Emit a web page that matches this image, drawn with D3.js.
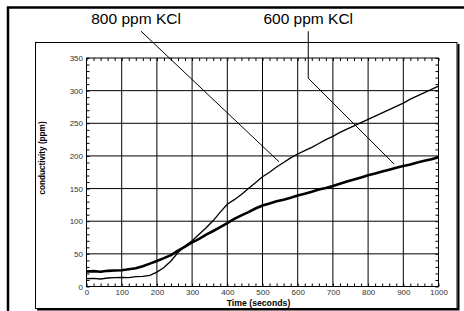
<!DOCTYPE html>
<html>
<head>
<meta charset="utf-8">
<script src="https://cdn.jsdelivr.net/npm/d3@7"></script>
<style>
  html, body { margin: 0; padding: 0; background: #fff; }
  svg { display: block; }
</style>
</head>
<body>
<div id="chart"></div>
<script>
// time axis (seconds), sampled every 20 s
var times = [0, 20, 40, 60, 80, 100, 120, 140, 160, 180, 200, 220, 240, 260, 280, 300, 320, 340, 360, 380,
  400, 420, 440, 460, 480, 500, 520, 540, 560, 580, 600, 620, 640, 660, 680, 700, 720, 740, 760, 780,
  800, 820, 840, 860, 880, 900, 920, 940, 960, 980, 1000];

// conductivity (ppm)
var kcl800 = [12, 12.5, 11.5, 13, 13.5, 14, 13.5, 15, 15.5, 17, 22, 29, 39, 52, 62, 70, 80, 90, 101, 114,
  126, 133, 141, 150, 159, 168, 175, 183, 190, 197, 203, 208, 213, 219, 225, 230, 236, 241, 246, 251,
  256, 261, 266, 271, 276, 281, 287, 292, 297, 302, 307];

var kcl600 = [23, 23.5, 22.5, 24, 24.5, 25, 26.5, 28, 31, 35, 39, 43.5, 48, 55, 61, 67.5, 73, 79.5, 85, 91,
  97, 103.5, 109, 114, 119.5, 124, 127, 130.5, 133, 136, 139.5, 142, 145, 148.5, 151, 154, 157.5, 161, 164, 167,
  170.5, 173, 176, 179, 182, 184.5, 187, 190, 192.5, 195, 198];

var seriesNames = ['800 ppm KCl', '600 ppm KCl'];
var xTicks = [0, 100, 200, 300, 400, 500, 600, 700, 800, 900, 1000];
var yTicks = [0, 50, 100, 150, 200, 250, 300, 350];

// leader lines for the labels, in data units [t, ppm]
var leader800 = [[155, 391], [547, 191]];
var leader600 = [[630, 391], [630, 319], [874, 187.5]];

var width = 464;
var height = 311;

//Create SVG
var svg = d3.select('#chart')
  .append('svg')
  .attr('width', width)
  .attr('height', height);

svg.append('rect')
  .attr('width', width)
  .attr('height', height)
  .attr('fill', '#fff');

//Outer frame (runs off the right and bottom edge)
svg.append('path')
  .attr('d', 'M8,' + height + 'V7.5H' + width)
  .attr('fill', 'none')
  .attr('stroke', '#000')
  .attr('stroke-width', 2.5);

//Inner panel with shadow
svg.append('path')
  .attr('d', 'M458.5,44V309.5H37')
  .attr('fill', 'none')
  .attr('stroke', '#000')
  .attr('stroke-width', 2);
svg.append('rect')
  .attr('x', 35.5)
  .attr('y', 42.5)
  .attr('width', 421.5)
  .attr('height', 266)
  .attr('fill', '#fff')
  .attr('stroke', '#000')
  .attr('stroke-width', 1);

//Scales
var x = d3.scaleLinear().domain([0, 1000]).range([86.5, 438.5]);
var y = d3.scaleLinear().domain([0, 350]).range([286.5, 58]);

var plot = svg.append('g');

//Grid
plot.selectAll('.vgrid')
  .data(xTicks.slice(1, -1))
  .enter()
  .append('line')
  .attr('x1', (d) => x(d))
  .attr('x2', (d) => x(d))
  .attr('y1', y(0))
  .attr('y2', y(350))
  .attr('stroke', '#000')
  .attr('stroke-width', 1);

plot.selectAll('.hgrid')
  .data(yTicks.slice(1, -1))
  .enter()
  .append('line')
  .attr('x1', x(0))
  .attr('x2', x(1000))
  .attr('y1', (d) => y(d))
  .attr('y2', (d) => y(d))
  .attr('stroke', '#000')
  .attr('stroke-width', 1);

//Axes, ticks inward on all four sides
var tickFont = function (g) {
  g.select('.domain').remove();
  g.selectAll('text')
    .style('font-family', 'Liberation Sans, Arial, sans-serif')
    .style('font-size', '8px')
    .attr('fill', '#333');
};

plot.append('g')
  .attr('transform', 'translate(0,' + y(0) + ')')
  .call(d3.axisBottom(x).tickValues(d3.range(0, 1001, 20)).tickSize(-3).tickFormat(''))
  .call((g) => g.select('.domain').remove());
plot.append('g')
  .attr('transform', 'translate(0,' + y(0) + ')')
  .call(d3.axisBottom(x).tickValues(xTicks).tickSize(0).tickPadding(2.5).tickFormat(d3.format('d')))
  .call(tickFont);

plot.append('g')
  .attr('transform', 'translate(0,' + y(350) + ')')
  .call(d3.axisTop(x).tickValues(d3.range(0, 1001, 20)).tickSize(-3).tickFormat(''))
  .call((g) => g.select('.domain').remove());

plot.append('g')
  .attr('transform', 'translate(' + x(0) + ',0)')
  .call(d3.axisLeft(y).tickValues(d3.range(0, 351, 10)).tickSize(-3).tickFormat(''))
  .call((g) => g.select('.domain').remove());
plot.append('g')
  .attr('transform', 'translate(' + x(0) + ',0)')
  .call(d3.axisLeft(y).tickValues(yTicks).tickSize(0).tickPadding(3.5).tickFormat(d3.format('d')))
  .call(tickFont);

plot.append('g')
  .attr('transform', 'translate(' + x(1000) + ',0)')
  .call(d3.axisRight(y).tickValues(d3.range(0, 351, 10)).tickSize(-3).tickFormat(''))
  .call((g) => g.select('.domain').remove());

plot.selectAll('.tick line')
  .attr('stroke', '#000');

//Plot frame
plot.append('rect')
  .attr('x', x(0))
  .attr('y', y(350))
  .attr('width', x(1000) - x(0))
  .attr('height', y(0) - y(350))
  .attr('fill', 'none')
  .attr('stroke', '#000')
  .attr('stroke-width', 1);

//Curves
var line = d3.line()
  .x((d) => x(d[0]))
  .y((d) => y(d[1]));

plot.append('path')
  .datum(times.map((t, i) => [t, kcl800[i]]))
  .attr('d', line)
  .attr('fill', 'none')
  .attr('stroke', '#000')
  .attr('stroke-width', 1.3);

plot.append('path')
  .datum(times.map((t, i) => [t, kcl600[i]]))
  .attr('d', line)
  .attr('fill', 'none')
  .attr('stroke', '#000')
  .attr('stroke-width', 2.6);

//Axis titles
svg.append('text')
  .attr('x', x(500) - 4)
  .attr('y', 306)
  .attr('text-anchor', 'middle')
  .style('font-family', 'Liberation Sans, Arial, sans-serif')
  .style('font-size', '8.7px')
  .style('font-weight', 'bold')
  .text('Time (seconds)');

svg.append('text')
  .attr('transform', 'translate(45,158) rotate(-90)')
  .attr('text-anchor', 'middle')
  .style('font-family', 'Liberation Sans, Arial, sans-serif')
  .style('font-size', '8.2px')
  .style('font-weight', 'bold')
  .text('conductivity (ppm)');

//Series labels with leader lines
var leaderLine = d3.line()
  .x((d) => x(d[0]))
  .y((d) => y(d[1]));

svg.append('path')
  .attr('d', leaderLine(leader800))
  .attr('fill', 'none')
  .attr('stroke', '#000')
  .attr('stroke-width', 1);
svg.append('path')
  .attr('d', leaderLine(leader600))
  .attr('fill', 'none')
  .attr('stroke', '#000')
  .attr('stroke-width', 1);

svg.selectAll('.series-label')
  .data(seriesNames)
  .enter()
  .append('text')
  .attr('x', (d, i) => i == 0 ? x(leader800[0][0]) - 5 : x(leader600[0][0]))
  .attr('y', 24)
  .attr('text-anchor', 'middle')
  .style('font-family', 'Liberation Sans, Arial, sans-serif')
  .style('font-size', '15.5px')
  .text((d) => d);
</script>
</body>
</html>
